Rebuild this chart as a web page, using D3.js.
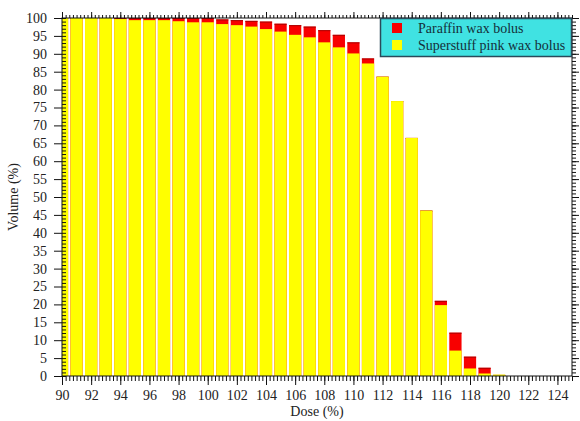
<!DOCTYPE html>
<html>
<head>
<meta charset="utf-8">
<script src="https://cdnjs.cloudflare.com/ajax/libs/d3/7.8.5/d3.min.js"></script>
<style>
  body { margin: 0; background: #fff; }
  svg { display: block; }
  text { font-family: "Liberation Serif", "DejaVu Serif", serif; }
</style>
</head>
<body>
<svg></svg>
<script>
// dose bins (%)
let doses = [90, 91, 92, 93, 94, 95, 96, 97, 98, 99, 100, 101, 102, 103, 104, 105,
             106, 107, 108, 109, 110, 111, 112, 113, 114, 115, 116, 117, 118, 119, 120];
// volume (%)
let paraffin = [100, 100, 100, 100, 100, 100, 100, 100, 100, 100, 100, 99.6, 99.4, 99.2, 99.0, 98.4,
                98.0, 97.6, 96.6, 95.3, 93.2, 88.7, 83.6, 76.8, 66.5, 46.2, 21.0, 12.1, 5.4, 2.3, 0.3];
let superstuff = [100, 100, 100, 100, 99.7, 99.4, 99.4, 99.4, 99.1, 98.8, 98.8, 98.3, 98.0, 97.6, 96.9, 96.2,
                  95.3, 94.6, 93.2, 91.8, 90.1, 87.3, 83.6, 76.8, 66.5, 46.2, 19.8, 7.1, 2.1, 0.7, 0.4];
let xTicks = [90, 92, 94, 96, 98, 100, 102, 104, 106, 108, 110, 112, 114, 116, 118, 120, 122, 124];
let yTicks = [0, 5, 10, 15, 20, 25, 30, 35, 40, 45, 50, 55, 60, 65, 70, 75, 80, 85, 90, 95, 100];
let legendLabels = ['Paraffin wax bolus', 'Superstuff pink wax bolus'];
let colors = ['#f80000', '#ffff00'];

let w = 580;
let h = 421;
let padL = 62;
let padR = 572;
let padT = 18;
let padB = 376;

let svg = d3.select('svg').attr('width', w).attr('height', h);

let xScale = d3.scaleLinear().domain([90, 125]).range([padL, padR]);
let yScale = d3.scaleLinear().domain([0, 100]).range([padB, padT]);

let halfBar = 0.42; // bar half width in dose units

svg.append('clipPath')
   .attr('id', 'plot')
   .append('rect')
   .attr('x', padL)
   .attr('y', padT)
   .attr('width', padR - padL)
   .attr('height', padB - padT);

let plot = svg.append('g').attr('clip-path', 'url(#plot)');

let drawSeries = (vals, color, cls) => {
  let rows = doses.map((d, i) => [d, vals[i]]);
  plot.selectAll('rect.' + cls)
      .data(rows)
      .enter()
      .append('rect')
      .attr('class', cls)
      .attr('x', item => xScale(item[0] - halfBar))
      .attr('width', item => xScale(item[0] + halfBar) - xScale(item[0] - halfBar))
      .attr('y', item => yScale(item[1]))
      .attr('height', item => yScale(0) - yScale(item[1]))
      .attr('fill', color);
  return rows;
}

let redRows = drawSeries(paraffin, colors[0], 'par');
// dark cap on the red bars
plot.selectAll('line.cap')
    .data(redRows)
    .enter()
    .append('line')
    .attr('class', 'cap')
    .attr('x1', item => xScale(item[0] - halfBar))
    .attr('x2', item => xScale(item[0] + halfBar))
    .attr('y1', item => yScale(item[1]) + 0.5)
    .attr('y2', item => yScale(item[1]) + 0.5)
    .attr('stroke', '#a80000')
    .attr('stroke-width', 1);
drawSeries(superstuff, colors[1], 'sup');

// axes: minor ticks first, then majors with labels
let xMinor = d3.range(90, 125.01, 0.25);
let yMinor = d3.range(0, 100.01, 1);

let drawAxis = (axis, tx, ty) => {
  let g = svg.append('g')
     .attr('transform', 'translate(' + tx + ',' + ty + ')')
     .call(axis);
  g.select('.domain').remove();
  g.selectAll('line').attr('stroke', '#111');
  return g;
}

drawAxis(d3.axisBottom(xScale).tickValues(xMinor).tickSize(5).tickFormat(''), 0, padB);
drawAxis(d3.axisTop(xScale).tickValues(xMinor).tickSize(3).tickFormat(''), 0, padT);
drawAxis(d3.axisLeft(yScale).tickValues(yMinor).tickSize(-4).tickFormat(''), padL, 0);
drawAxis(d3.axisRight(yScale).tickValues(yMinor).tickSize(4).tickFormat(''), padR, 0);

let xAxis = d3.axisBottom(xScale).tickValues(xTicks).tickSize(9).tickPadding(5);
let gx = drawAxis(xAxis, 0, padB);
gx.selectAll('text')
  .style('font-family', '"Liberation Serif", serif')
  .style('font-size', '14px')
  .attr('fill', '#222');

let yAxis = d3.axisLeft(yScale).tickValues(yTicks).tickSize(8).tickPadding(7);
let gy = drawAxis(yAxis, padL, 0);
gy.selectAll('text')
  .style('font-family', '"Liberation Serif", serif')
  .style('font-size', '14px')
  .attr('fill', '#222');

drawAxis(d3.axisTop(xScale).tickValues(xTicks).tickSize(6).tickFormat(''), 0, padT);
drawAxis(d3.axisRight(yScale).tickValues(yTicks).tickSize(7).tickFormat(''), padR, 0);

// frame
svg.append('rect')
   .attr('x', padL)
   .attr('y', padT)
   .attr('width', padR - padL)
   .attr('height', padB - padT)
   .attr('fill', 'none')
   .attr('stroke', '#111')
   .attr('stroke-width', 1);

// axis titles
svg.append('text')
   .attr('x', (padL + padR) / 2)
   .attr('y', 416)
   .attr('text-anchor', 'middle')
   .style('font-size', '14px')
   .attr('fill', '#222')
   .text('Dose (%)');

svg.append('text')
   .attr('transform', 'translate(18,' + ((padT + padB) / 2) + ') rotate(-90)')
   .attr('text-anchor', 'middle')
   .style('font-size', '14px')
   .attr('fill', '#222')
   .text('Volume (%)');

// legend
let legend = svg.append('g');
legend.append('rect')
      .attr('x', 380.5)
      .attr('y', 18.5)
      .attr('width', 191)
      .attr('height', 38)
      .attr('fill', '#40e2e2')
      .attr('stroke', '#2a4a5a')
      .attr('stroke-width', 1.5);

legend.selectAll('rect.key')
      .data(legendLabels)
      .enter()
      .append('rect')
      .attr('class', 'key')
      .attr('x', 392)
      .attr('y', (d, i) => 23 + i * 17)
      .attr('width', 10)
      .attr('height', 10)
      .attr('fill', (d, i) => colors[i]);

legend.selectAll('text')
      .data(legendLabels)
      .enter()
      .append('text')
      .attr('x', 418)
      .attr('y', (d, i) => 33 + i * 17)
      .style('font-size', '14px')
      .attr('fill', '#15303a')
      .text(d => d);
</script>
</body>
</html>
